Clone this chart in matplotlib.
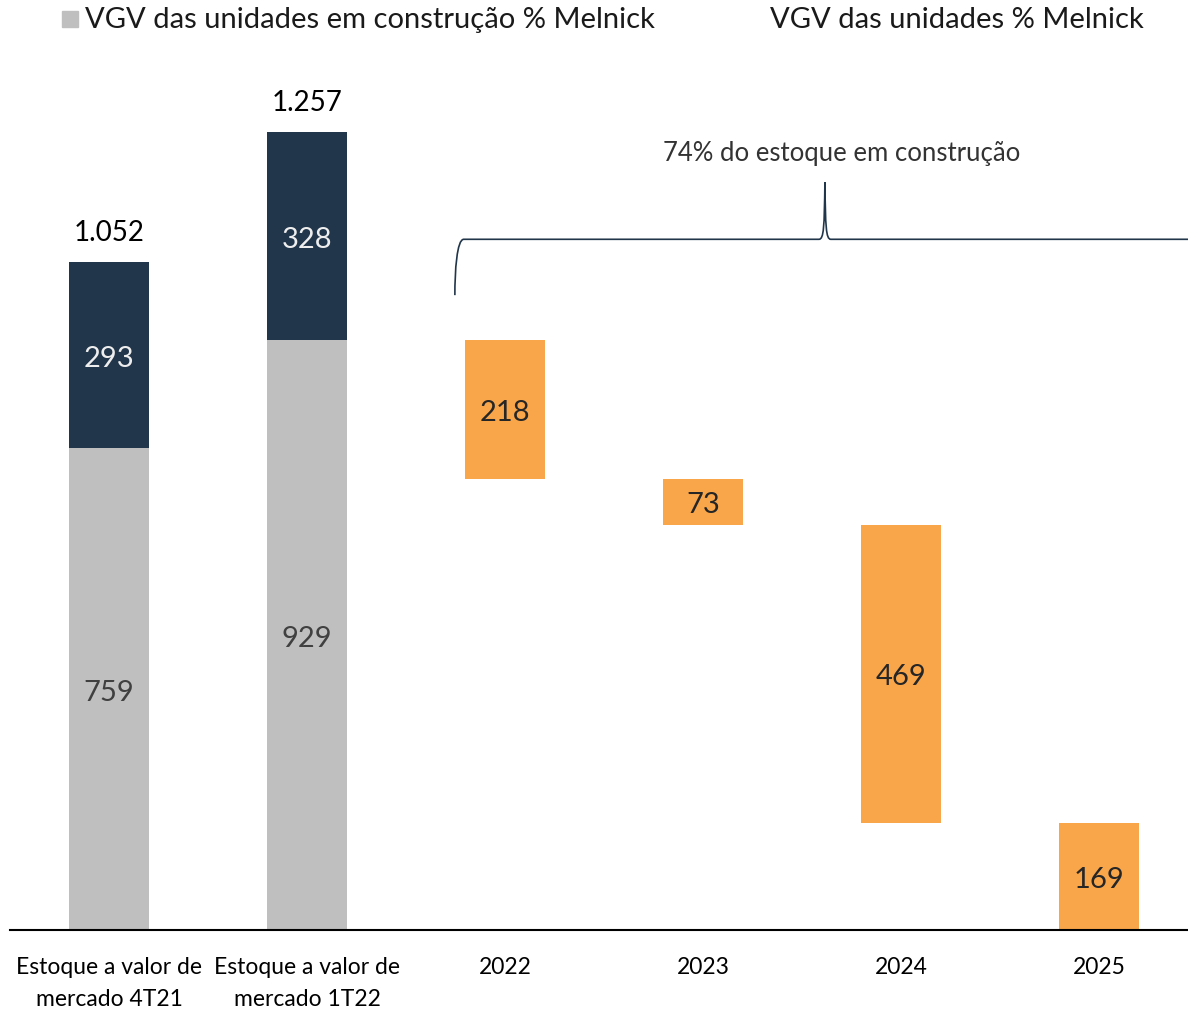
import matplotlib.pyplot as plt
from matplotlib.path import Path
from matplotlib.patches import PathPatch, Rectangle

plt.rcParams['font.family'] = ['Lato', 'DejaVu Sans']

# --- Data ---
CATEGORIES = ['Estoque a valor de\nmercado 4T21', 'Estoque a valor de\nmercado 1T22',
              '2022', '2023', '2024', '2025']
STOCK_CONSTR = [759, 929]       # VGV das unidades em construção
STOCK_OTHER = [293, 328]        # VGV das unidades
STOCK_TOTAL_LABELS = ['1.052', '1.257']
YEAR_VALUES = [218, 73, 469, 169]  # waterfall of the 1T22 construction stock
BRACE_TEXT = '74% do estoque em construção'
LEGEND_1 = 'VGV das unidades em construção % Melnick'
LEGEND_2 = 'VGV das unidades % Melnick'

NAVY = '#22364B'
GRAY = '#BFBFBF'
ORANGE = '#F9A64A'

fig = plt.figure(figsize=(11.88, 10.12), dpi=100)
ax = fig.add_axes([10 / 1188, 81 / 1012, 1 - 10 / 1188, 1 - 81 / 1012 - 60 / 1012])

W = 0.404
x_stock = [0, 1]
ax.bar(x_stock, STOCK_CONSTR, width=W, color=GRAY)
ax.bar(x_stock, STOCK_OTHER, width=W, bottom=STOCK_CONSTR, color=NAVY)
for x, g, n, lab in zip(x_stock, STOCK_CONSTR, STOCK_OTHER, STOCK_TOTAL_LABELS):
    ax.text(x, g / 2, str(g), ha='center', va='center_baseline', fontsize=21, color='#404040')
    ax.text(x, g + n / 2, str(n), ha='center', va='center_baseline', fontsize=21,
            color='#EEEEEE')
    ax.text(x, g + n + 48, lab, ha='center', va='center', fontsize=20, color='black')

# waterfall of the years, starting at the 1T22 construction stock
top = STOCK_CONSTR[1]
for i, v in enumerate(YEAR_VALUES):
    x = 2 + i
    ax.bar(x, v, width=W, bottom=top - v, color=ORANGE)
    ax.text(x, top - v / 2, str(v), ha='center', va='center_baseline', fontsize=21,
            color='#262626')
    top -= v

ax.set_xlim(-0.5, 5.45)
ax.set_ylim(0, 1372)
for s in ['top', 'right', 'left']:
    ax.spines[s].set_visible(False)
ax.spines['bottom'].set_linewidth(1.5)
ax.spines['bottom'].set_color('black')
ax.set_yticks([])
ax.set_xticks(range(len(CATEGORIES)))
ax.set_xticklabels(CATEGORIES, fontsize=16.5, linespacing=1.6)
ax.tick_params(axis='x', length=0, pad=19)

# brace over the year bars
x0, xm, x1 = 1.747, 3.616, 6.0
yb, yh, yt = 1000, 1088, 1178
verts = [(x0, yb), (x0, yh - 50), (x0 + 0.01, yh), (x0 + 0.045, yh),
         (xm - 0.03, yh), (xm - 0.005, yh), (xm - 0.003, yh + 20), (xm, yt),
         (xm + 0.003, yh + 20), (xm + 0.005, yh), (xm + 0.03, yh),
         (x1, yh)]
codes = [Path.MOVETO, Path.CURVE4, Path.CURVE4, Path.CURVE4,
         Path.LINETO, Path.CURVE4, Path.CURVE4, Path.CURVE4,
         Path.CURVE4, Path.CURVE4, Path.CURVE4,
         Path.LINETO]
ax.add_patch(PathPatch(Path(verts, codes), fill=False, edgecolor=NAVY, lw=1.2))
ax.text(3.7, 1224, BRACE_TEXT, ha='center', va='center', fontsize=18.5, color='#333333')

# legend
fig.patches.append(Rectangle((62 / 1188, 1 - 28 / 1012), 16 / 1188, 16 / 1012,
                             transform=fig.transFigure, color=GRAY))
fig.text(85 / 1188, 1 - 20 / 1012, LEGEND_1, ha='left', va='center', fontsize=21,
         color='#1a1a1a')
fig.text(770 / 1188, 1 - 20 / 1012, LEGEND_2, ha='left', va='center', fontsize=21,
         color='#1a1a1a')

fig.savefig('out.png', dpi=100, facecolor='white')
